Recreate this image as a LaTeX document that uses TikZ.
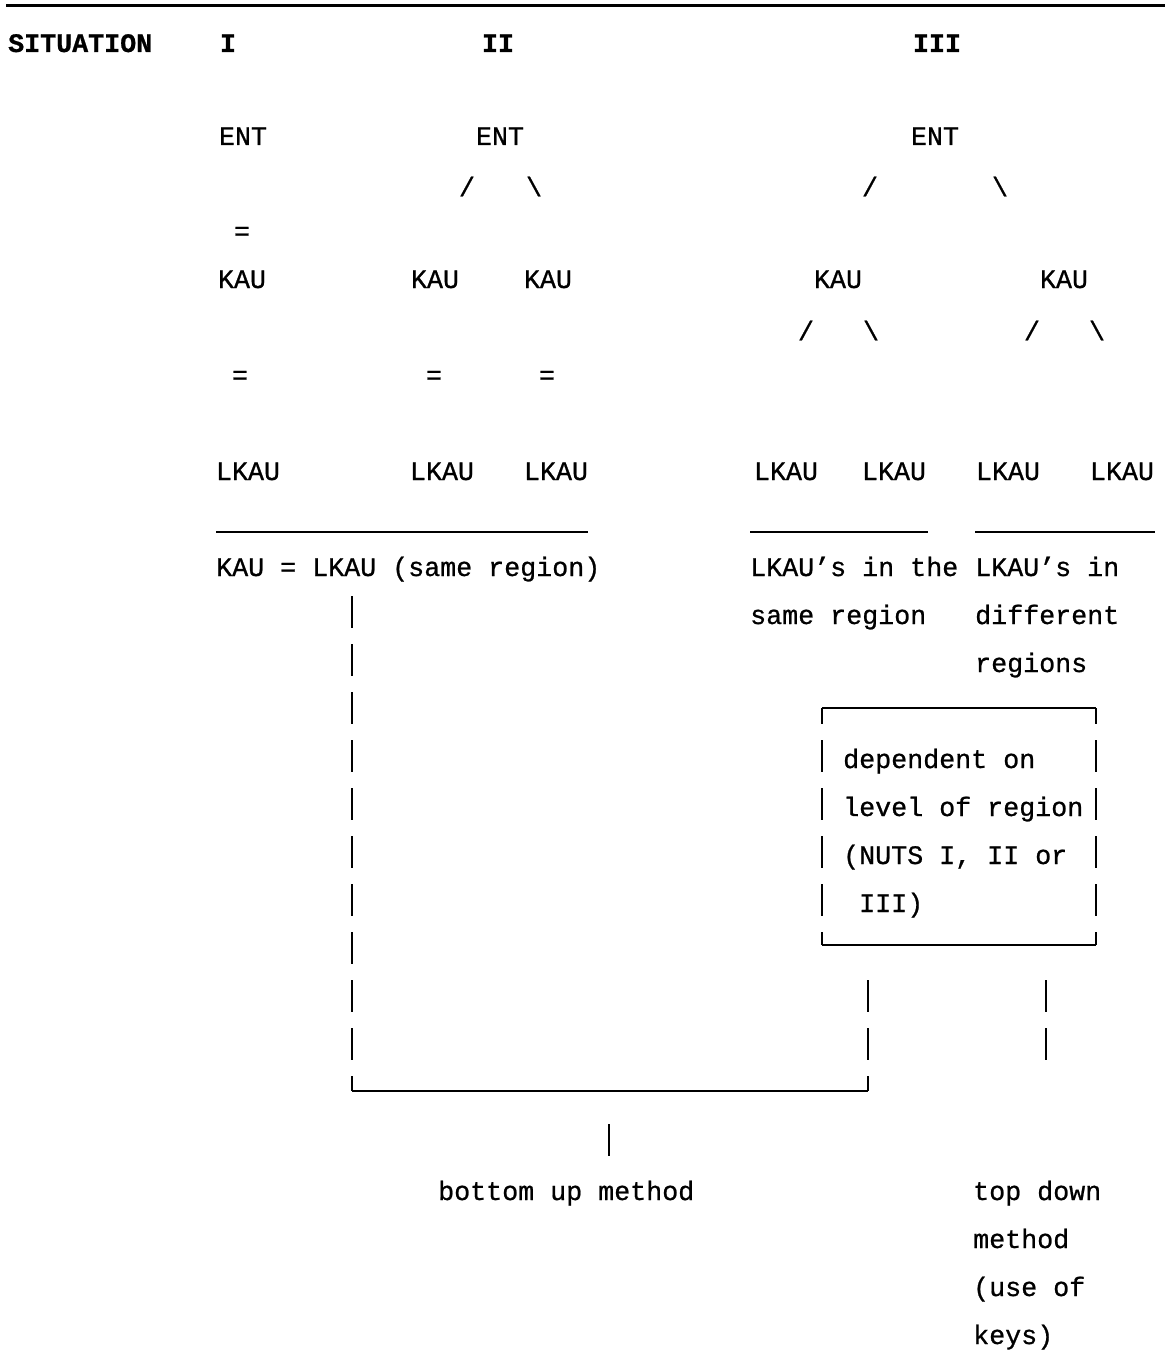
\documentclass[tikz,border=0pt]{standalone}
\usepackage{fontspec}
\setmainfont{Liberation Mono}[FakeBold=0.8]
\begin{document}
\begin{tikzpicture}[x=1pt,y=-1pt,
  txt/.style={inner sep=0pt, font=\fontsize{26.67}{48}\selectfont},
  lbl/.style={txt, anchor=base west},
  ctr/.style={txt, anchor=base},
  heavy/.style={font=\fontsize{26.67}{48}\selectfont\bfseries},
  rulel/.style={line width=2pt},
  bars/.style={line width=2.4pt, dash pattern=on 32pt off 16pt},
  solidbar/.style={line width=2.4pt}
]
\useasboundingbox (0,0) rectangle (1165,1351);
\draw[line width=3pt] (6,6) -- (1165,6);
% header
\node[lbl,heavy] (sit) at (8,52) {SITUATION};
\node[ctr,heavy] (s1) at (228,52) {I};
\node[ctr,heavy] (s2) at (498,52) {II};
\node[ctr,heavy] (s3) at (937,52) {III};
% ENT row
\node[ctr] (e1) at (243,145) {ENT};
\node[ctr] (e2) at (500,145) {ENT};
\node[ctr] (e3) at (935,145) {ENT};
% slashes row 3
\node[ctr] (sl1) at (467,196) {/};
\node[ctr] (sl2) at (534,196) {\textbackslash};
\node[ctr] (sl3) at (870,196) {/};
\node[ctr] (sl4) at (1000,196) {\textbackslash};
% = row 4
\node[ctr] (eq1) at (242,240) {=};
% KAU row
\node[ctr] (k1) at (242,288) {KAU};
\node[ctr] (k2) at (435,288) {KAU};
\node[ctr] (k3) at (548,288) {KAU};
\node[ctr] (k4) at (838,288) {KAU};
\node[ctr] (k5) at (1064,288) {KAU};
% slashes row 6
\node[ctr] (sl5) at (806,340) {/};
\node[ctr] (sl6) at (871,340) {\textbackslash};
\node[ctr] (sl7) at (1032,340) {/};
\node[ctr] (sl8) at (1097,340) {\textbackslash};
% = row 7
\node[ctr] (eq2) at (240,384) {=};
\node[ctr] (eq3) at (434,384) {=};
\node[ctr] (eq4) at (547,384) {=};
% LKAU row
\node[ctr] (l1) at (248,480) {LKAU};
\node[ctr] (l2) at (442,480) {LKAU};
\node[ctr] (l3) at (556,480) {LKAU};
\node[ctr] (l4) at (786,480) {LKAU};
\node[ctr] (l5) at (894,480) {LKAU};
\node[ctr] (l6) at (1008,480) {LKAU};
\node[ctr] (l7) at (1122,480) {LKAU};
% underlines
\draw[rulel] (216,532) -- (588,532);
\draw[rulel] (750,532) -- (928,532);
\draw[rulel] (975,532) -- (1155,532);
% descriptions
\node[lbl] (d1) at (216,576) {KAU = LKAU (same region)};
\node[lbl] (d2a) at (750,576) {LKAU's in the};
\node[lbl] (d2b) at (750,624) {same region};
\node[lbl] (d3a) at (975,576) {LKAU's in};
\node[lbl] (d3b) at (975,624) {different};
\node[lbl] (d3c) at (975,672) {regions};
% box
\coordinate (btl) at (822,708);
\coordinate (btr) at (1096,708);
\coordinate (bbl) at (822,945);
\coordinate (bbr) at (1096,945);
\draw[rulel] (btl) -- (btr);
\draw[rulel] (bbl) -- (bbr);
\draw[bars, dash phase=16pt] (btl) -- (bbl);
\draw[bars, dash phase=16pt] (btr) -- (bbr);
\node[lbl] (x1) at (843,768) {dependent on};
\node[lbl] (x2) at (843,816) {level of region};
\node[lbl] (x3) at (843,864) {(NUTS I, II or};
\node[lbl] (x4) at (859,912) {III)};
% bracket (bottom up)
\coordinate (ltop) at (352,596);
\coordinate (lbot) at (352,1091);
\coordinate (rtop) at (868,980);
\coordinate (rbot) at (868,1091);
\draw[bars] (ltop) -- (lbot);
\draw[bars] (rtop) -- (rbot);
\draw[rulel] (lbot) -- (rbot);
\coordinate (ctop) at (609,1124);
\coordinate (cbot) at (609,1156);
\draw[solidbar] (ctop) -- (cbot);
% top-down bars
\coordinate (ttop) at (1046,980);
\coordinate (tbot) at (1046,1060);
\draw[bars] (ttop) -- (tbot);
% methods
\node[lbl] (m1) at (438,1200) {bottom up method};
\node[lbl] (m2a) at (973,1200) {top down};
\node[lbl] (m2b) at (973,1248) {method};
\node[lbl] (m2c) at (973,1296) {(use of};
\node[lbl] (m2d) at (973,1344) {keys)};
\end{tikzpicture}
\end{document}
